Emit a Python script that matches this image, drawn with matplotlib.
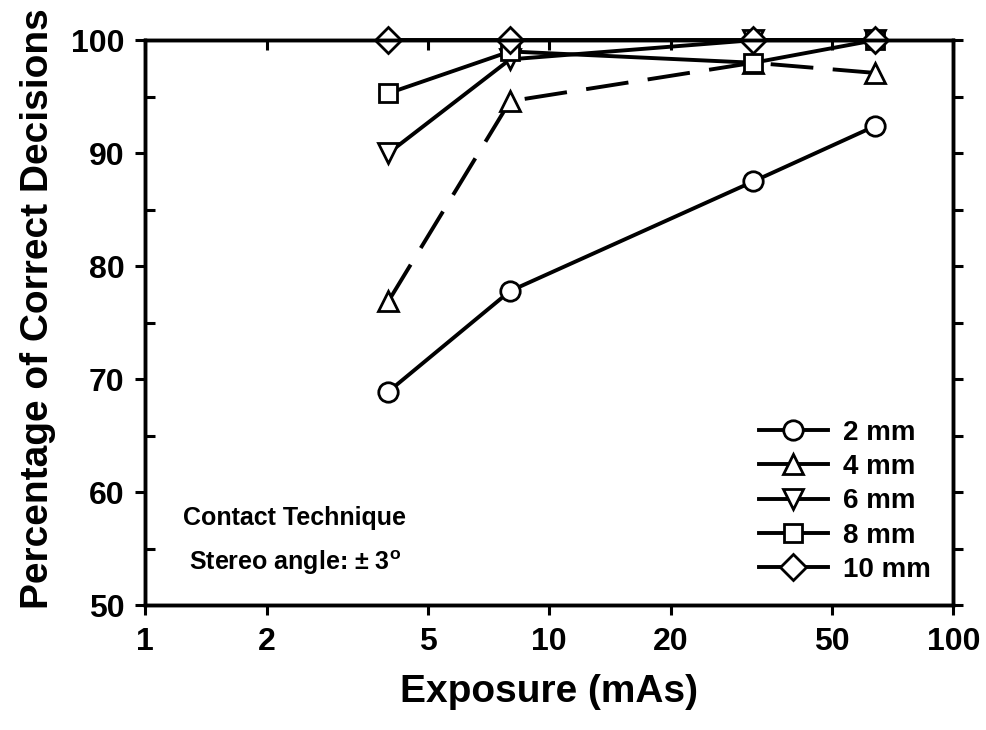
"""Percentage of correct decisions vs exposure, contact technique."""

import matplotlib

matplotlib.use("Agg")
import matplotlib.pyplot as plt
from matplotlib.lines import Line2D
from matplotlib.ticker import FixedLocator, MultipleLocator, NullLocator

plt.rcParams["font.family"] = ["Liberation Sans", "DejaVu Sans"]
plt.rcParams["font.weight"] = "bold"
plt.rcParams["mathtext.fontset"] = "custom"
plt.rcParams["mathtext.rm"] = "Liberation Sans:bold"

# exposure values (mAs)
exposure = [4, 8, 32, 64]

# percentage of correct decisions per lesion size
labels = ["2 mm", "4 mm", "6 mm", "8 mm", "10 mm"]
pct_2mm = [68.9, 77.8, 87.5, 92.4]
pct_4mm = [76.9, 94.6, 98.0, 97.1]
pct_6mm = [90.0, 98.3, 100.0, 100.0]
pct_8mm = [95.3, 99.0, 98.0, 100.0]
pct_10mm = [100.0, 100.0, 100.0, 100.0]

x_ticks = [1, 2, 5, 10, 20, 50, 100]
x_tick_labels = ["1", "2", "5", "10", "20", "50", "100"]

series = [pct_2mm, pct_4mm, pct_6mm, pct_8mm, pct_10mm]
markers = ["o", "^", "v", "s", "D"]
marker_sizes = [14, 14, 14, 13, 13]
LW = 2.8
MEW = 2.0

fig = plt.figure(figsize=(9.87, 7.30), dpi=100)
ax = fig.add_axes([0.147, 0.171, 0.819, 0.774])

for values, marker, size, label in zip(series, markers, marker_sizes, labels):
    style = dict(color="black", linewidth=LW, marker=marker, markersize=size,
                 markerfacecolor="white", markeredgecolor="black",
                 markeredgewidth=MEW, clip_on=False)
    if label == "4 mm":
        style["dashes"] = (11, 5)
    ax.plot(exposure, values, **style)

ax.set_xscale("log")
ax.set_xlim(1, 100)
ax.set_ylim(50, 100)
ax.xaxis.set_major_locator(FixedLocator(x_ticks))
ax.xaxis.set_minor_locator(NullLocator())
ax.set_xticklabels(x_tick_labels)
ax.yaxis.set_major_locator(MultipleLocator(10))
ax.yaxis.set_minor_locator(MultipleLocator(5))

for spine in ax.spines.values():
    spine.set_linewidth(2.4)

ax.tick_params(axis="x", which="major", direction="out", length=7, width=2.2,
               labelsize=23, pad=9)
ax.tick_params(axis="y", which="major", direction="out", length=7, width=2.2,
               labelsize=23, pad=8)
ax.tick_params(axis="y", which="minor", direction="in", length=7, width=2.2)

# right and top frame ticks
ax_r = ax.twinx()
ax_r.set_ylim(50, 100)
ax_r.yaxis.set_major_locator(MultipleLocator(5))
ax_r.tick_params(axis="y", direction="out", length=7, width=2.2, labelright=False)
ax_t = ax.twiny()
ax_t.set_xscale("log")
ax_t.set_xlim(1, 100)
ax_t.xaxis.set_major_locator(FixedLocator(x_ticks))
ax_t.xaxis.set_minor_locator(NullLocator())
ax_t.tick_params(axis="x", direction="in", length=7, width=2.2, labeltop=False)
for extra in (ax_r, ax_t):
    for spine in extra.spines.values():
        spine.set_linewidth(2.4)

ax.set_xlabel("Exposure (mAs)", fontsize=28, fontweight="bold", labelpad=12)
ax.set_ylabel("Percentage of Correct Decisions", fontsize=28, fontweight="bold")
ax.yaxis.set_label_coords(-0.11, 0.525)

ax.text(0.185, 0.155, "Contact Technique", transform=ax.transAxes,
        fontsize=18, fontweight="bold", ha="center", va="center")
ax.text(0.185, 0.075, r"Stereo angle: ± 3$^{\mathrm{o}}$", transform=ax.transAxes,
        fontsize=18, fontweight="bold", ha="center", va="center")

handles = [
    Line2D([], [], color="black", linewidth=LW, marker=m, markersize=s,
           markerfacecolor="white", markeredgecolor="black", markeredgewidth=MEW)
    for m, s in zip(markers, marker_sizes)
]
ax.legend(handles, labels, loc="lower right", bbox_to_anchor=(1.0, 0.0),
          frameon=False, handlelength=2.5, handletextpad=0.55,
          labelspacing=0.3, borderaxespad=0.4,
          prop={"family": "Liberation Sans", "weight": "bold", "size": 20})

fig.savefig("out.png", dpi=100)
